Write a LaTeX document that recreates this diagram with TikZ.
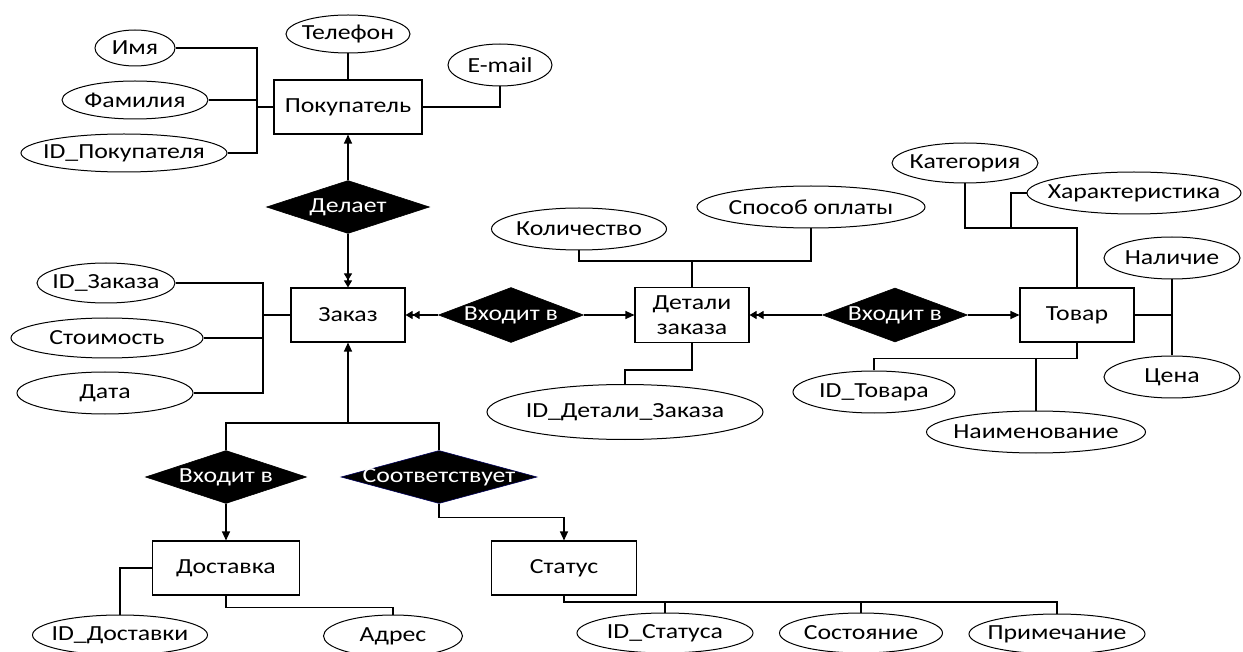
\documentclass[tikz,border=0pt]{standalone}
\usepackage{fontspec}
\setmainfont{Carlito}[FakeStretch=1.2]
\usetikzlibrary{shapes.geometric,arrows.meta}
\newcommand{\zbx}[1]{\makebox[0pt]{#1}}
\begin{document}
\begin{tikzpicture}[x=1pt,y=-1pt,line width=1.1pt,
  every node/.style={font=\fontsize{21.5}{25}\selectfont},
  ent/.style={draw,rectangle,inner sep=0pt,align=center,minimum height=54pt},
  attr/.style={draw,ellipse,inner sep=0pt,line width=1pt},
  rel/.style={diamond,fill=black,draw=black,line width=0.6pt,inner sep=0pt,text=white},
  onearr/.style={-{Triangle[length=9pt,width=8pt]}},
  twoarr/.style={-{Triangle[length=7pt,width=8pt]Triangle[length=7pt,width=8pt]}}]
\useasboundingbox (0,0) rectangle (1243,652);
\fill[white] (0,0) rectangle (1243,652);

% entities
\node[ent,minimum width=148pt] (pok) at (348,107) {Покупатель};
\node[ent,minimum width=114pt] (zak) at (348,315) {Заказ};
\node[ent,minimum width=114pt,minimum height=55pt] (det) at (692,315) {Детали\\заказа};
\node[ent,minimum width=114pt] (tov) at (1077,315) {Товар};
\node[ent,minimum width=147pt] (dos) at (226,568) {Доставка};
\node[ent,minimum width=145pt] (sta) at (564,568) {Статус};

% relationships
\node[rel,minimum width=163pt,minimum height=53pt] (del) at (348,207) {\zbx{Делает}};
\node[rel,minimum width=145pt,minimum height=55pt] (vx1) at (511,315) {\zbx{Входит в}};
\node[rel,minimum width=145pt,minimum height=54pt] (vx2) at (895,315) {\zbx{Входит в}};
\node[rel,minimum width=161pt,minimum height=53pt] (vx3) at (226,477) {\zbx{Входит в}};
\node[rel,draw=blue!35!black,minimum width=196pt,minimum height=53pt] (soo) at (439,477) {\zbx{Соответствует}};

% attributes
\node[attr,minimum width=80pt,minimum height=36pt] (imya) at (135,48) {\zbx{Имя}};
\node[attr,minimum width=146pt,minimum height=38pt] (fam) at (135,100) {\zbx{Фамилия}};
\node[attr,minimum width=206pt,minimum height=38pt] (idp) at (124,153) {\zbx{ID\_Покупателя}};
\node[attr,minimum width=124pt,minimum height=38pt] (tel) at (348,34) {\zbx{Телефон}};
\node[attr,minimum width=104pt,minimum height=42pt] (email) at (500,65) {\zbx{E-mail}};

\node[attr,minimum width=138pt,minimum height=40pt] (idz) at (106,283) {\zbx{ID\_Заказа}};
\node[attr,minimum width=192pt,minimum height=40pt] (stoi) at (107,338) {\zbx{Стоимость}};
\node[attr,minimum width=176pt,minimum height=42pt] (data) at (105,393) {\zbx{Дата}};

\node[attr,minimum width=175pt,minimum height=42pt] (kol) at (579,229) {\zbx{Количество}};
\node[attr,minimum width=228pt,minimum height=42pt] (spo) at (811,207) {\zbx{Способ оплаты}};
\node[attr,minimum width=276pt,minimum height=55pt] (idd) at (625,412) {\zbx{ID\_Детали\_Заказа}};

\node[attr,minimum width=146pt,minimum height=40pt] (kat) at (965,163) {\zbx{Категория}};
\node[attr,minimum width=214pt,minimum height=42pt] (har) at (1134,193) {\zbx{Характеристика}};
\node[attr,minimum width=136pt,minimum height=42pt] (nal) at (1172,258) {\zbx{Наличие}};
\node[attr,minimum width=136pt,minimum height=42pt] (cen) at (1172,377) {\zbx{Цена}};
\node[attr,minimum width=162pt,minimum height=42pt] (idt) at (874,392) {\zbx{ID\_Товара}};
\node[attr,minimum width=219pt,minimum height=42pt] (nai) at (1036,432) {\zbx{Наименование}};

\node[attr,minimum width=175pt,minimum height=40pt] (iddos) at (120,635) {\zbx{ID\_Доставки}};
\node[attr,minimum width=139pt,minimum height=42pt] (adr) at (393,636) {\zbx{Адрес}};
\node[attr,minimum width=176pt,minimum height=40pt] (idst) at (665,633) {\zbx{ID\_Статуса}};
\node[attr,minimum width=163pt,minimum height=40pt] (sost) at (861,633) {\zbx{Состояние}};
\node[attr,minimum width=176pt,minimum height=40pt] (prim) at (1057,634) {\zbx{Примечание}};

% bus coordinates
\coordinate (busP) at (257,107);
\coordinate (busZ) at (263,315);
\coordinate (busD) at (692,261);
\coordinate (busT) at (1077,228);
\coordinate (hj) at (1011,228);
\coordinate (busT2) at (1172,315);
\coordinate (nj) at (1036,358);
\coordinate (busB) at (348,423);
\coordinate (busS) at (564,602);

% Покупатель
\draw (imya) -| (busP);
\draw (idp) -| (busP);
\draw (fam) -- (fam -| busP);
\draw (busP) -- (pok);
\draw (tel) -- (pok);
\draw (pok) -| (email);

% Делает
\draw[onearr] (del) -- (pok);
\draw[twoarr] (del) -- (zak);

% Заказ
\draw (idz) -| (busZ);
\draw (data) -| (busZ);
\draw (stoi) -- (stoi -| busZ);
\draw (busZ) -- (zak);

% Входит в (middle)
\draw[twoarr] (vx1) -- (zak);
\draw[onearr] (vx1) -- (det);
\draw[twoarr] (vx2) -- (det);
\draw[onearr] (vx2) -- (tov);

% Детали заказа
\draw (kol) |- (busD) -| (spo);
\draw (busD) -- (det);
\draw (det.south) -- ++(0,27) -| (idd);

% Товар
\draw (kat) |- (busT) -- (tov);
\draw (har) -| (hj);
\draw (tov) -- (busT2);
\draw (nal) -- (cen);
\draw (tov.south) -- ++(0,16) -| (idt);
\draw (nj) -- (nai);

% bottom
\draw[onearr] (busB) -- (zak);
\draw (vx3) |- (busB) -| (soo);
\draw[onearr] (vx3) -- (dos);
\draw[onearr] (soo.south) -- ++(0,14) -| (sta);

\draw (dos) -| (iddos);
\draw (dos.south) -- ++(0,12) -| (adr);

\draw (sta) -- (busS) -| (prim);
\draw (idst |- busS) -- (idst);
\draw (sost |- busS) -- (sost);
\end{tikzpicture}
\end{document}
